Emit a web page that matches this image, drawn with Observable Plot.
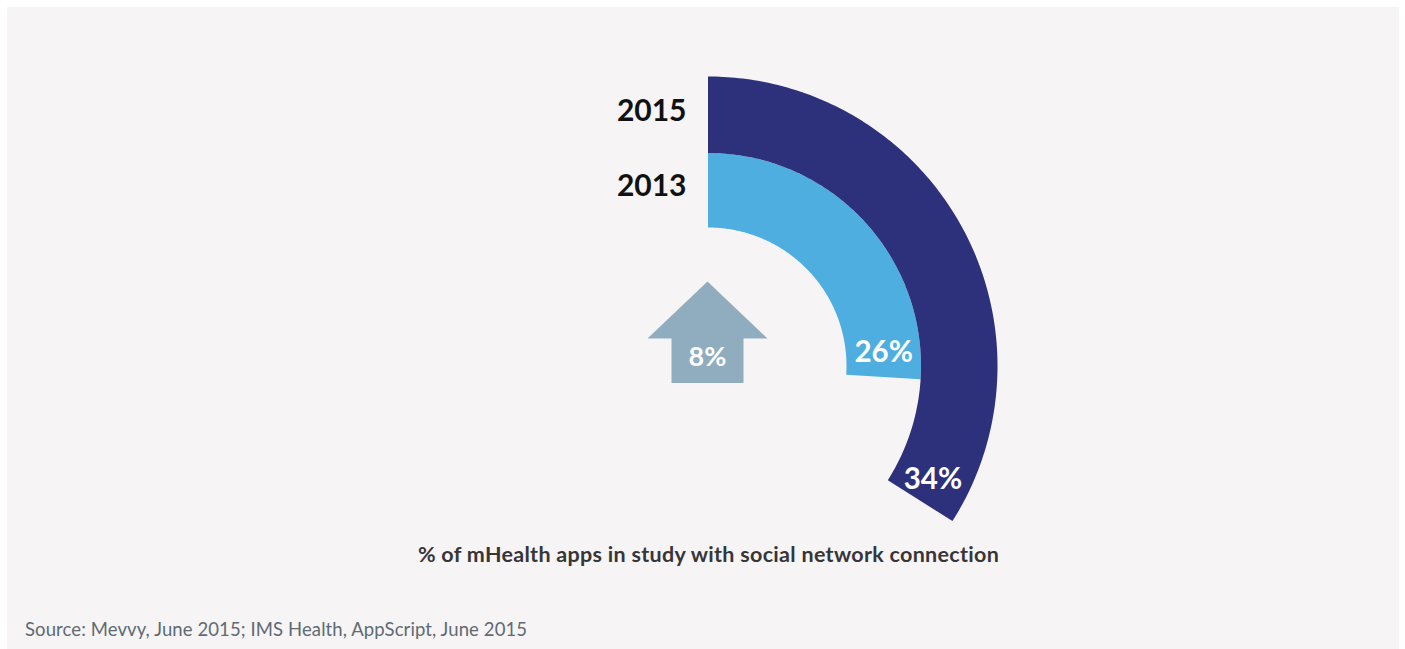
<!DOCTYPE html>
<html>
<head>
<meta charset="utf-8">
<script src="https://cdn.jsdelivr.net/npm/d3@7"></script>
<script src="https://cdn.jsdelivr.net/npm/@observablehq/plot@0.6"></script>
<style>
  html, body { margin: 0; padding: 0; background: #ffffff; }
  body { width: 1405px; height: 649px; position: relative; overflow: hidden; font-family: Lato, "Open Sans", sans-serif; }
  #panel { position: absolute; left: 7px; top: 7px; width: 1392px; height: 642px; background: #f6f4f5; }
  #chart { position: absolute; left: 0; top: 0; }
  #caption { position: absolute; left: 0; top: 534px; width: 1403px; text-align: center;
             font-size: 21.5px; line-height: 26px; font-weight: 700; color: #363638; letter-spacing: 0.3px; }
  #source { position: absolute; left: 18px; top: 611px; font-size: 18.5px; line-height: 22px; color: #5f6a73; letter-spacing: 0.1px; }
</style>
</head>
<body>
<div id="panel">
  <div id="chart"></div>
  <div id="caption">% of mHealth apps in study with social network connection</div>
  <div id="source">Source: Mevvy, June 2015; IMS Health, AppScript, June 2015</div>
</div>
<script>
// Share of mHealth apps with a social network connection, by study year
const years = ["2013", "2015"];
const shares = [26, 34];
const bandColors = ["#4eaee0", "#2d317b"];
const arrowColor = "#90adc0";

// Ring geometry (px): each year is a concentric band, 2013 inside, 2015 outside
const ringInner = [138.5, 213];
const ringOuter = [213, 289.5];

// Sample each band as an annular sector, clockwise from 12 o'clock
const arcPts = years.flatMap((year, i) => {
  const end = shares[i] / 100 * 2 * Math.PI;
  const n = 160;
  return d3.range(n + 1).map(k => {
    const t = end * k / n;
    return {
      year,
      xi: ringInner[i] * Math.sin(t), yi: ringInner[i] * Math.cos(t),
      xo: ringOuter[i] * Math.sin(t), yo: ringOuter[i] * Math.cos(t)
    };
  });
});

// Value labels sit inside each band, just before its end
const valueLabels = years.map((year, i) => {
  const rMid = (ringInner[i] + ringOuter[i]) / 2;
  const a = shares[i] / 100 * 2 * Math.PI - 25 / rMid;
  return { x: rMid * Math.sin(a), y: rMid * Math.cos(a), text: `${shares[i]}%` };
});

// Year labels to the left of where each band starts
const yearLabels = years.map((year, i) => ({
  x: -22, y: (ringInner[i] + ringOuter[i]) / 2 + 4, text: year
}));

// Up-arrow showing the change between the two years
const change = shares[1] - shares[0];
const arrowX = -1, headHalf = 60, shaftHalf = 36, tipY = 85, headY = 28, baseY = -16.5;
const arrowPts = [
  [arrowX, tipY], [arrowX + headHalf, headY], [arrowX + shaftHalf, headY],
  [arrowX + shaftHalf, baseY], [arrowX - shaftHalf, baseY], [arrowX - shaftHalf, headY],
  [arrowX - headHalf, headY]
].map(([x, y]) => ({ x, y }));

const chart = Plot.plot({
  width: 1392,
  height: 530,
  margin: 0,
  x: { domain: [-701, 691], axis: null },
  y: { domain: [-171, 359], axis: null },
  color: { domain: years, range: bandColors },
  style: { background: "transparent", fontFamily: "Lato, 'Open Sans', sans-serif" },
  marks: [
    Plot.area(arcPts, { x1: "xi", y1: "yi", x2: "xo", y2: "yo", z: "year", fill: "year", curve: "linear" }),
    Plot.line(arrowPts, { x: "x", y: "y", fill: arrowColor, stroke: "none", curve: "linear-closed" }),
    Plot.text([{ x: arrowX, y: 9, text: `${change}%` }], {
      x: "x", y: "y", text: "text", fill: "white", fontSize: 27, fontWeight: 700
    }),
    Plot.text(valueLabels, {
      x: "x", y: "y", text: "text", fill: "white", fontSize: 29.5, fontWeight: 700
    }),
    Plot.text(yearLabels, {
      x: "x", y: "y", text: "text", fill: "#111111", fontSize: 30, fontWeight: 700, textAnchor: "end"
    })
  ]
});
document.getElementById("chart").appendChild(chart);
</script>
</body>
</html>
